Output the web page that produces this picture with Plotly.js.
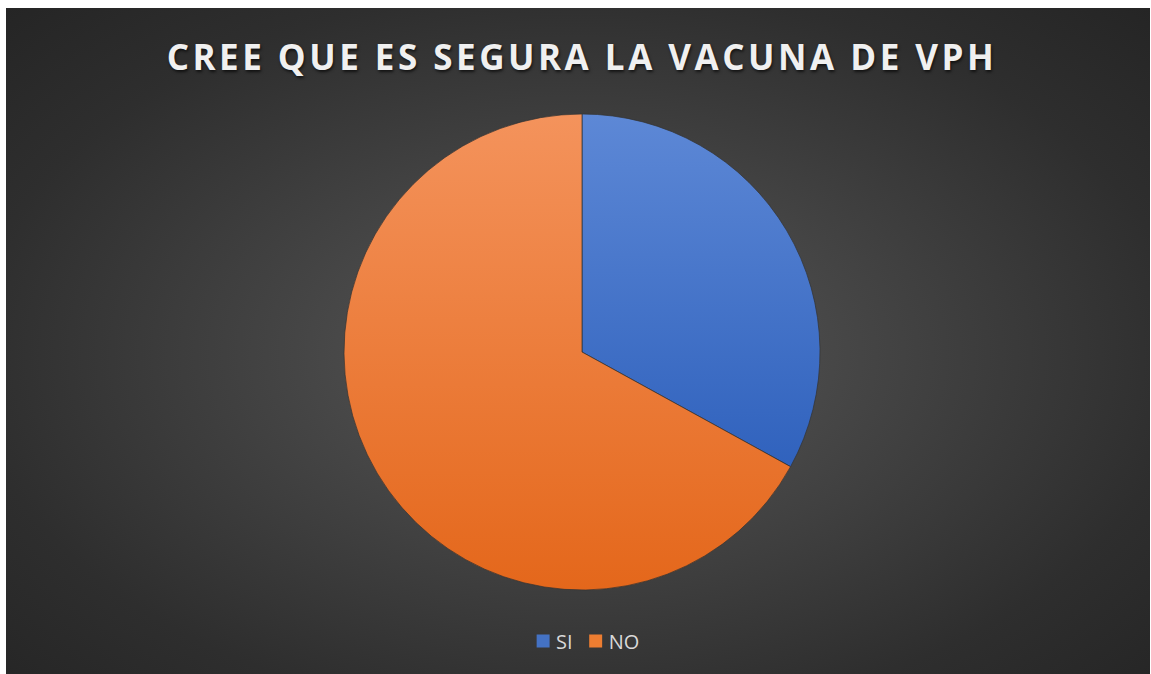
<!DOCTYPE html>
<html>
<head>
<meta charset="utf-8">
<script src="https://cdn.plot.ly/plotly-3.0.1.min.js"></script>
<style>
  html, body { margin: 0; padding: 0; background: #ffffff; width: 1151px; height: 674px; overflow: hidden; }
  #wrap {
    position: absolute; left: 6px; top: 8px; width: 1144px; height: 666px;
    background: radial-gradient(ellipse farthest-corner at 50% 52%, #5a5a5a 0%, #454545 35%, #2e2e2e 75%, #252525 100%);
  }
  #chart { width: 1144px; height: 666px; }
  #chart .gtitle { letter-spacing: 3.5px; }
</style>
</head>
<body>
<div id="wrap"><div id="chart"></div></div>
<script>
const categories = ["SI", "NO"];
const values = [33, 67];
const sliceColors = ["#4472c4", "#ed7d31"];
const titleText = "CREE QUE ES SEGURA LA VACUNA DE VPH";

const data = [{
  type: "pie",
  labels: categories,
  values: values,
  sort: false,
  direction: "clockwise",
  rotation: 0,
  textinfo: "none",
  hoverinfo: "label+value+percent",
  marker: { colors: sliceColors, line: { color: "rgba(50,50,50,0.7)", width: 1 } }
}];

const layout = {
  width: 1144,
  height: 666,
  paper_bgcolor: "rgba(0,0,0,0)",
  plot_bgcolor: "rgba(0,0,0,0)",
  margin: { l: 8, r: 0, t: 106, b: 84, autoexpand: false },
  title: {
    text: "<b>" + titleText + "</b>",
    x: 0.5, xref: "paper", xanchor: "center",
    y: 0.926, yref: "container", yanchor: "middle",
    font: { family: "Open Sans, Noto Sans, sans-serif", size: 35, color: "#f0f0f0", shadow: "1px 2px 3px rgba(0,0,0,0.65)" }
  },
  showlegend: true,
  legend: {
    orientation: "h",
    x: 0.442, xanchor: "left",
    y: -0.107, yanchor: "middle",
    font: { family: "Open Sans, Noto Sans, sans-serif", size: 20, color: "#d9d9d9" },
    bgcolor: "rgba(0,0,0,0)",
    traceorder: "normal"
  }
};

Plotly.newPlot("chart", data, layout, { displayModeBar: false }).then(function () {
  const svg = document.querySelector("#chart svg.main-svg");
  const ns = "http://www.w3.org/2000/svg";
  const defs = document.createElementNS(ns, "defs");
  const grads = [["gSI", "#5d88d6", "#3062bd"], ["gNO", "#f4935c", "#e4671b"]];
  grads.forEach(function (g) {
    const lg = document.createElementNS(ns, "linearGradient");
    lg.setAttribute("id", g[0]);
    lg.setAttribute("x1", "0"); lg.setAttribute("y1", "0");
    lg.setAttribute("x2", "0"); lg.setAttribute("y2", "1");
    const s1 = document.createElementNS(ns, "stop");
    s1.setAttribute("offset", "0"); s1.setAttribute("stop-color", g[1]);
    const s2 = document.createElementNS(ns, "stop");
    s2.setAttribute("offset", "1"); s2.setAttribute("stop-color", g[2]);
    lg.appendChild(s1); lg.appendChild(s2);
    defs.appendChild(lg);
  });
  svg.insertBefore(defs, svg.firstChild);
  document.querySelectorAll("#chart g.slice path.surface").forEach(function (p, i) {
    p.style.fill = "url(#" + grads[i][0] + ")";
  });
  document.querySelectorAll("#chart .legend path.legendpie").forEach(function (p) {
    p.style.strokeWidth = "0";
    p.setAttribute("transform", "translate(27,0) scale(1.08)");
  });
  const items = document.querySelectorAll("#chart .legend g.traces");
  if (items.length > 1) {
    const t = items[1].getAttribute("transform") || "";
    const m = t.match(/translate\(\s*([-\d.]+)[ ,]+([-\d.]+)\s*\)/);
    if (m) {
      items[1].setAttribute("transform", "translate(" + (parseFloat(m[1]) - 9) + "," + m[2] + ")");
    }
  }
});
</script>
</body>
</html>
